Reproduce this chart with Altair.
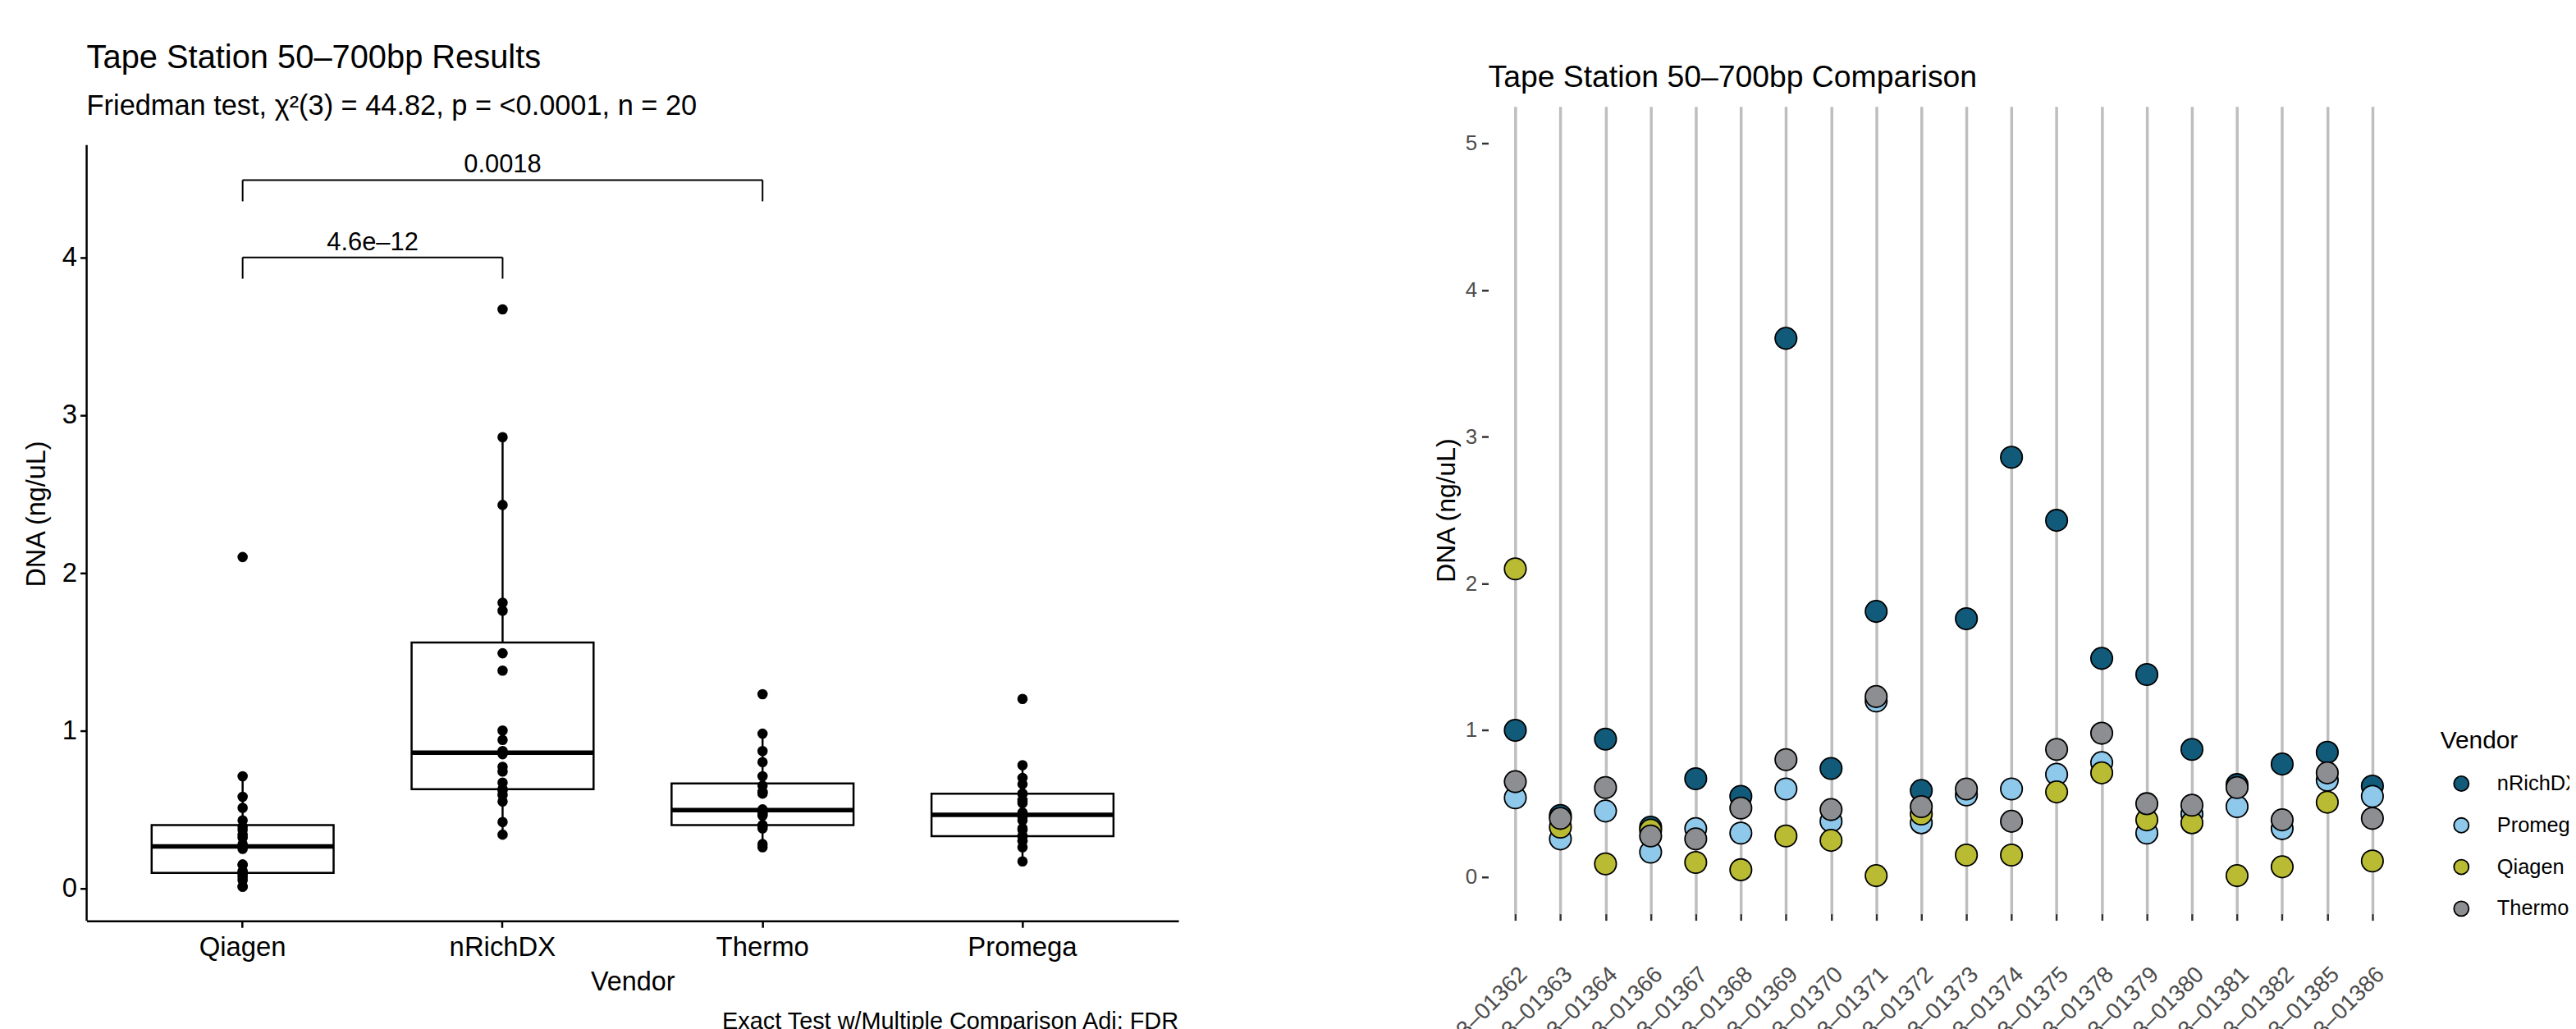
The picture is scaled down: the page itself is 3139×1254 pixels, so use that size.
import altair as alt
import numpy as np
import pandas as pd

# ---------------- data ----------------
sample_ids = ["2023–01362", "2023–01363", "2023–01364", "2023–01366", "2023–01367",
              "2023–01368", "2023–01369", "2023–01370", "2023–01371", "2023–01372",
              "2023–01373", "2023–01374", "2023–01375", "2023–01378", "2023–01379",
              "2023–01380", "2023–01381", "2023–01382", "2023–01385", "2023–01386"]

nrichdx = [1.00, 0.42, 0.94, 0.34, 0.67, 0.55, 3.67, 0.74, 1.81, 0.59,
           1.76, 2.86, 2.43, 1.49, 1.38, 0.87, 0.63, 0.77, 0.85, 0.62]
promega = [0.54, 0.26, 0.45, 0.17, 0.33, 0.30, 0.60, 0.38, 1.20, 0.37,
           0.56, 0.60, 0.70, 0.78, 0.30, 0.43, 0.48, 0.33, 0.66, 0.55]
qiagen = [2.10, 0.34, 0.09, 0.32, 0.10, 0.05, 0.28, 0.25, 0.01, 0.43,
          0.15, 0.15, 0.58, 0.71, 0.39, 0.37, 0.01, 0.07, 0.51, 0.11]
thermo = [0.65, 0.40, 0.61, 0.28, 0.26, 0.47, 0.80, 0.46, 1.23, 0.48,
          0.60, 0.38, 0.87, 0.98, 0.50, 0.49, 0.61, 0.39, 0.71, 0.40]

legend_vendors = ["nRichDX", "Promega", "Qiagen", "Thermo"]
vendor_colors = ["#125A7A", "#8EC8EA", "#B9BB33", "#8D8E92"]
box_order = ["Qiagen", "nRichDX", "Thermo", "Promega"]

bracket_group1 = ["Qiagen", "Qiagen"]
bracket_group2 = ["nRichDX", "Thermo"]
bracket_y = [4.00, 4.49]
bracket_labels = ["4.6e–12", "0.0018"]
tip_length = 0.135

left_y_ticks = [0, 1, 2, 3, 4]
left_axis_extent = [-0.207, 4.712]   # extent of the drawn y axis line
right_y_ticks = [0, 1, 2, 3, 4, 5]

left_title = "Tape Station 50–700bp Results"
left_subtitle = "Friedman test, χ²(3) = 44.82, p = <0.0001, n = 20"
caption = "Exact Test w/Multiple Comparison Adj: FDR"
right_title = "Tape Station 50–700bp Comparison"

# ---------------- tables ----------------
series = {"nRichDX": nrichdx, "Promega": promega, "Qiagen": qiagen, "Thermo": thermo}
rows = []
for k, v in enumerate(legend_vendors):
    for s, val in zip(sample_ids, series[v]):
        rows.append({"vendor": v, "sample": s, "value": val, "vorder": k})
long = pd.DataFrame(rows)

stats = []
for v in box_order:
    vals = np.array(series[v])
    q1, med, q3 = np.percentile(vals, [25, 50, 75])
    iqr = q3 - q1
    lo = vals[vals >= q1 - 1.5 * iqr].min()
    hi = vals[vals <= q3 + 1.5 * iqr].max()
    stats.append({"vendor": v, "q1": q1, "median": med, "q3": q3, "lo": lo, "hi": hi})
stats = pd.DataFrame(stats)

pos = {v: i + 1 for i, v in enumerate(box_order)}
segs, labs = [], []
for g1, g2, yb, lab in zip(bracket_group1, bracket_group2, bracket_y, bracket_labels):
    a, b = pos[g1], pos[g2]
    segs.append({"x": a, "x2": b, "y": yb, "y2": yb})
    segs.append({"x": a, "x2": a, "y": yb, "y2": yb - tip_length})
    segs.append({"x": b, "x2": b, "y": yb, "y2": yb - tip_length})
    labs.append({"xm": (a + b) / 2, "y": yb, "label": lab})
segs = pd.DataFrame(segs)
labs = pd.DataFrame(labs)
axis_line = pd.DataFrame({"bottom": [left_axis_extent[0]], "top": [left_axis_extent[1]]})

FONT = "Liberation Sans"

# ---------------- left panel ----------------
WL, HL = 1336, 996.7
x_left = alt.X("vendor:N", sort=box_order,
               scale=alt.Scale(paddingInner=0.3, paddingOuter=0.25),
               axis=alt.Axis(title="Vendor", labelAngle=0, labelFontSize=33, labelColor="black",
                             labelPadding=8, titleFontSize=32.5, titleFontWeight="normal",
                             titleColor="black", titlePadding=10, domainColor="black",
                             domainWidth=2.5, tickColor="black", tickWidth=2.5, tickSize=8,
                             grid=False))
y_axis_left = alt.Axis(values=left_y_ticks, title="DNA (ng/uL)", labelFontSize=33,
                       labelColor="black", labelPadding=4, titleFontSize=32.5,
                       titleFontWeight="normal", titleColor="black", titlePadding=14,
                       domain=False, tickColor="black", tickWidth=2.5, tickSize=8, grid=False)
y_scale_left = alt.Scale(domain=[-0.207, 4.957], nice=False, zero=False)

yaxis_rule = alt.Chart(axis_line).mark_rule(color="black", strokeWidth=2.5).encode(
    x=alt.value(0), y=alt.Y("top:Q", scale=y_scale_left, axis=y_axis_left), y2="bottom:Q")
whisk = alt.Chart(stats).mark_rule(color="black", strokeWidth=2.5).encode(
    x=x_left, y=alt.Y("lo:Q", scale=y_scale_left, axis=y_axis_left), y2="hi:Q")
box = alt.Chart(stats).mark_bar(fill="white", stroke="black", strokeWidth=2.5).encode(
    x=x_left, y=alt.Y("q1:Q", scale=y_scale_left, axis=y_axis_left), y2="q3:Q")
med = alt.Chart(stats).mark_tick(color="black", thickness=5.5, size=222.7, opacity=1).encode(
    x=x_left, y=alt.Y("median:Q", scale=y_scale_left, axis=y_axis_left))
pts = alt.Chart(long).mark_circle(color="black", size=160, opacity=1).encode(
    x=x_left, y=alt.Y("value:Q", scale=y_scale_left, axis=y_axis_left))
main_left = alt.layer(whisk, box, med, pts, yaxis_rule)

x_br = alt.Scale(domain=[0.4, 4.6], nice=False, zero=False)
br_lines = alt.Chart(segs).mark_rule(color="black", strokeWidth=2).encode(
    x=alt.X("x:Q", scale=x_br, axis=None), x2="x2:Q",
    y=alt.Y("y:Q", scale=y_scale_left, axis=y_axis_left), y2="y2:Q")
br_text = alt.Chart(labs).mark_text(fontSize=31, baseline="alphabetic", dy=-9,
                                    color="black", font=FONT).encode(
    x=alt.X("xm:Q", scale=x_br, axis=None),
    y=alt.Y("y:Q", scale=y_scale_left, axis=y_axis_left), text="label:N")
brackets = alt.layer(br_lines, br_text)

left = alt.layer(main_left, brackets).resolve_scale(x="independent").properties(
    width=WL, height=HL,
    title=alt.TitleParams(text=left_title, subtitle=left_subtitle, anchor="start",
                          frame="group", baseline="top", fontSize=40, subtitleFontSize=34.5,
                          fontWeight="normal", color="black", subtitleColor="black",
                          font=FONT, subtitleFont=FONT, subtitlePadding=22.5, offset=-17.2))

left_wrapped = alt.vconcat(left, title=alt.TitleParams(
    text=caption, orient="bottom", anchor="end", fontSize=29, fontWeight="normal",
    color="black", font=FONT, baseline="top", offset=18))

# ---------------- right panel ----------------
WR, HR = 1115, 988
right = alt.Chart(long).mark_circle(size=700, stroke="black", strokeWidth=1.8, opacity=1).encode(
    x=alt.X("sample:N", sort=sample_ids, scale=alt.Scale(type="point", padding=0.6),
            axis=alt.Axis(title=None, grid=True, gridColor="#BEBEBE", gridWidth=3.5,
                          domain=False, ticks=True, tickColor="#333333", tickSize=8,
                          tickWidth=2.5, labelAngle=-45, labelAlign="right",
                          labelBaseline="top", labelPadding=52, labelFontSize=28,
                          labelColor="#4D4D4D", labelLimit=0, labelOverlap=False)),
    y=alt.Y("value:Q", scale=alt.Scale(domain=[-0.25, 5.25], nice=False, zero=False),
            axis=alt.Axis(values=right_y_ticks, title="DNA (ng/uL)", grid=False,
                          domain=False, tickColor="#333333", tickSize=8, tickWidth=2.5,
                          labelFontSize=26, labelColor="#4D4D4D", labelPadding=6,
                          titleFontSize=32, titleFontWeight="normal", titleColor="black",
                          titlePadding=6)),
    color=alt.Color("vendor:N", scale=alt.Scale(domain=legend_vendors, range=vendor_colors),
                    legend=alt.Legend(title="Vendor", orient="none", legendX=1165, legendY=762,
                                      direction="vertical", titleFontSize=30,
                                      titleFontWeight="normal", titleColor="black",
                                      labelFontSize=25.5, labelColor="black", symbolType="circle",
                                      symbolSize=330, symbolStrokeColor="black",
                                      symbolStrokeWidth=1.8, symbolOpacity=1, symbolOffset=13,
                                      labelOffset=31, rowPadding=24, titlePadding=24, padding=0,
                                      labelLimit=0)),
    order=alt.Order("vorder:Q"),
).properties(
    width=WR, height=HR,
    title=alt.TitleParams(text=right_title, anchor="start", frame="group",
                          baseline="top", fontSize=37.5, fontWeight="normal", color="black",
                          font=FONT, offset=16.4))

chart = alt.hconcat(left_wrapped, right, spacing=302).resolve_legend(
    color="independent").properties(
    padding={"left": 20, "top": 40.5, "right": -15, "bottom": 0}
).configure(font=FONT).configure_view(stroke=None)

chart.save("out.html", embed_options={"renderer": "svg", "actions": False})
